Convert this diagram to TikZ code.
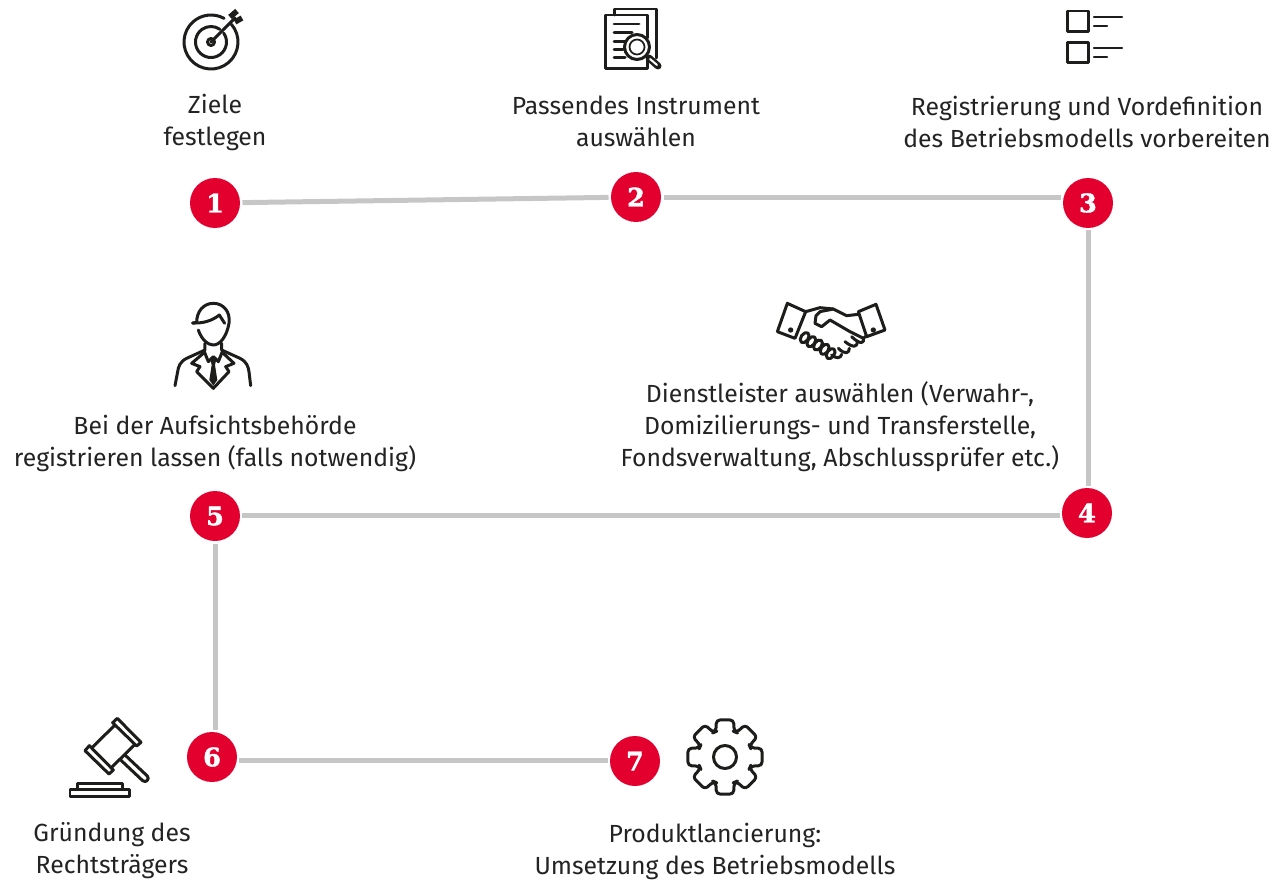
\documentclass[tikz,border=0pt]{standalone}
\usepackage{fontspec}
\usepackage{xcolor}
\setmainfont{Fira Sans}
\newfontfamily\numfont[BoldFeatures={FakeBold=1.6}]{DejaVu Serif}
\usetikzlibrary{positioning}
\definecolor{dfred}{RGB}{227,0,47}
\definecolor{dfgrey}{RGB}{198,198,198}
\definecolor{dfink}{RGB}{29,29,27}
\definecolor{dftext}{RGB}{35,35,35}
\tikzstyle{stepdot} = [circle, fill=dfred, minimum size=1cm, inner sep=0pt, outer sep=0.05cm, text=white, font=\numfont\bfseries\fontsize{14.5}{14.5}\selectfont]
\tikzstyle{link} = [line width=0.1cm, color=dfgrey]
\tikzstyle{caption} = [align=center, inner sep=0pt, text=dftext, font=\fontsize{14.1}{18.2}\selectfont]
\tikzstyle{icon} = [line width=0.06cm, color=dfink, line join=round, line cap=round]
\begin{document}
\begin{tikzpicture}[x=0.02cm, y=-0.02cm]
\useasboundingbox (0,0) rectangle (1274,879);

% Steps
\node[stepdot] (step1) at (215,203) {1};
\node[stepdot] (step2) at (636,197) {2};
\node[stepdot] (step3) at (1088,203) {3};
\node[stepdot] (step4) at (1087,513) {4};
\node[stepdot] (step5) at (215,516) {5};
\node[stepdot] (step6) at (212,757) {6};
\node[stepdot] (step7) at (635,761) {7};

% Links
\draw[link] (step1) -- (step2);
\draw[link] (step2.east) -- (step3.west |- step2.east);
\draw[link] (step3) -- (step3 |- step4.north);
\draw[link] (step4.west |- 0,515) -- (step5.east |- 0,515);
\draw[link] (step5) -- (step5 |- step6.north);
\draw[link] (step6.east |- 0,760) -- (step7.west |- 0,760);

% Captions
\node[caption] (text1) at (215,122) {Ziele\\festlegen};
\node[caption] (text2) at (636,121) {Passendes Instrument\\auswählen};
\node[caption] (text3) at (1087,122) {Registrierung und Vordefinition\\des Betriebsmodells vorbereiten};
\node[caption] (text4) at (840,427) {Dienstleister auswählen (Verwahr-,\\Domizilierungs- und Transferstelle,\\Fondsverwaltung, Abschlussprüfer etc.)};
\node[caption] (text5) at (215,443) {Bei der Aufsichtsbehörde\\registrieren lassen (falls notwendig)};
\node[caption] (text6) at (112,851) {Gründung des\\Rechtsträgers};
\node[caption] (text7) at (715,851) {Produktlancierung:\\Umsetzung des Betriebsmodells};

% Target
\begin{scope}[shift={(211,42)}]
\draw[icon] (-41:27) arc (-41:299:27);
\draw[icon] (-35:15.5) arc (-35:305:15.5);
\draw[icon] (0,0) circle (3.5);
\draw[icon] (0,0) -- (24,-24);
\draw[icon, line width=0.11cm, line cap=butt] (19,-25) -- (26,-31);
\draw[icon, line width=0.11cm, line cap=butt] (24,-20) -- (31,-24);
\end{scope}

% Documents
\draw[icon] (614,15) -- (614,9) -- (656,9) -- (656,58);
\draw[icon] (647,38) -- (647,15) -- (605,15) -- (605,68) -- (647,68) -- (647,58);
\foreach \ya/\xb in {24/639,32/632,41/625,49/623,57/625} {
  \draw[icon] (614,\ya) -- (\xb,\ya);
}
\draw[icon, fill=white] (637,47) circle (12.5);
\draw[icon, line width=0.035cm] (637,47) circle (7.5);
\draw[icon, line width=0.14cm] (649,58) -- (658,66);
\draw[color=white, line width=0.04cm, line cap=round] (650,59) -- (657,65);

% Checklist
\foreach \ya in {11,42} {
  \draw[icon, line cap=butt] (1067,\ya) rectangle (1088,\ya+20);
  \draw[icon, line width=0.05cm] (1094,\ya+6) -- (1122,\ya+6);
  \draw[icon, line width=0.05cm] (1094,\ya+15) -- (1107,\ya+15);
}

% Person
\begin{scope}[shift={(160,295)}, scale=0.3333]
\draw[icon] (115,105) .. controls (125,135) and (145,150) .. (160,150) .. controls (180,150) and (200,125) .. (207,85) .. controls (212,50) and (190,25) .. (160,25) .. controls (130,25) and (110,50) .. (110,82) -- (98,84);
\draw[icon] (98,84) .. controls (130,85) and (155,78) .. (178,60) -- (194,85);
\draw[icon] (135,145) -- (135,165) -- (80,190) .. controls (60,200) and (55,215) .. (53,230) -- (45,272);
\draw[icon] (185,145) -- (185,165) -- (240,190) .. controls (260,200) and (265,215) .. (267,230) -- (272,272);
\draw[icon] (130,175) -- (95,205) -- (120,215) -- (110,230) -- (160,280) -- (207,230) -- (197,215) -- (222,205) -- (190,175);
\draw[icon] (133,170) -- (145,200) -- (160,185) -- (175,200) -- (187,170);
\fill[dfink] (150,188) -- (170,188) -- (165,210) -- (172,255) -- (160,272) -- (148,255) -- (155,210) -- cycle;
\end{scope}

% Handshake
\begin{scope}[shift={(770,295)}, scale=0.3333]
\draw[icon] (52,25) -- (107,50) -- (75,130) -- (22,110) -- cycle;
\draw[icon] (345,105) -- (290,125) -- (265,50) -- (318,28) -- cycle;
\fill[dfink] (62,105) circle (8) (310,105) circle (8);
\draw[icon] (107,50) -- (150,38) -- (190,42) -- (230,62) -- (265,58);
\draw[icon] (150,50) -- (138,62) -- (135,85) -- (155,95) -- (180,75) -- (240,110) -- (280,130) .. controls (285,145) and (270,150) .. (245,125);
\draw[icon] (150,50) -- (190,42);
\draw[icon] (280,130) -- (290,122);
\draw[icon] (262,142) .. controls (262,155) and (250,160) .. (225,140);
\draw[icon] (238,160) .. controls (238,175) and (225,180) .. (205,160);
\draw[icon] (215,178) .. controls (212,190) and (200,192) .. (185,180);
\foreach \xa/\ya in {104/128,124/140,144/150,164/163,182/176} {
  \draw[icon, rotate around={-35:(\xa,\ya)}] (\xa,\ya) ellipse (11 and 17);
}
\end{scope}

% Gavel
\begin{scope}[shift={(60,710)}, scale=0.3333]
\draw[icon] (172,25) -- (243,97) -- (230,108) -- (158,38) -- cycle;
\draw[icon] (88,107) -- (160,180) -- (147,192) -- (75,122) -- cycle;
\draw[icon] (165,45) -- (97,112);
\draw[icon] (225,103) -- (155,172);
\draw[icon] (180,148) -- (248,212) .. controls (258,220) and (270,207) .. (262,198) -- (195,135);
\draw[icon] (52,238) -- (52,220) -- (188,220) -- (188,238);
\draw[icon] (30,238) rectangle (210,260);
\end{scope}

% Gear
\begin{scope}[shift={(725,757)}]
\draw[icon, rounded corners=0.07cm] (-20:27) \foreach \a in {0,45,...,315} { -- (\a-20:27) -- (\a-13:38) -- (\a+13:38) -- (\a+20:27) } -- cycle;
\draw[icon] (0,0) circle (11.5);
\end{scope}
\end{tikzpicture}
\end{document}
